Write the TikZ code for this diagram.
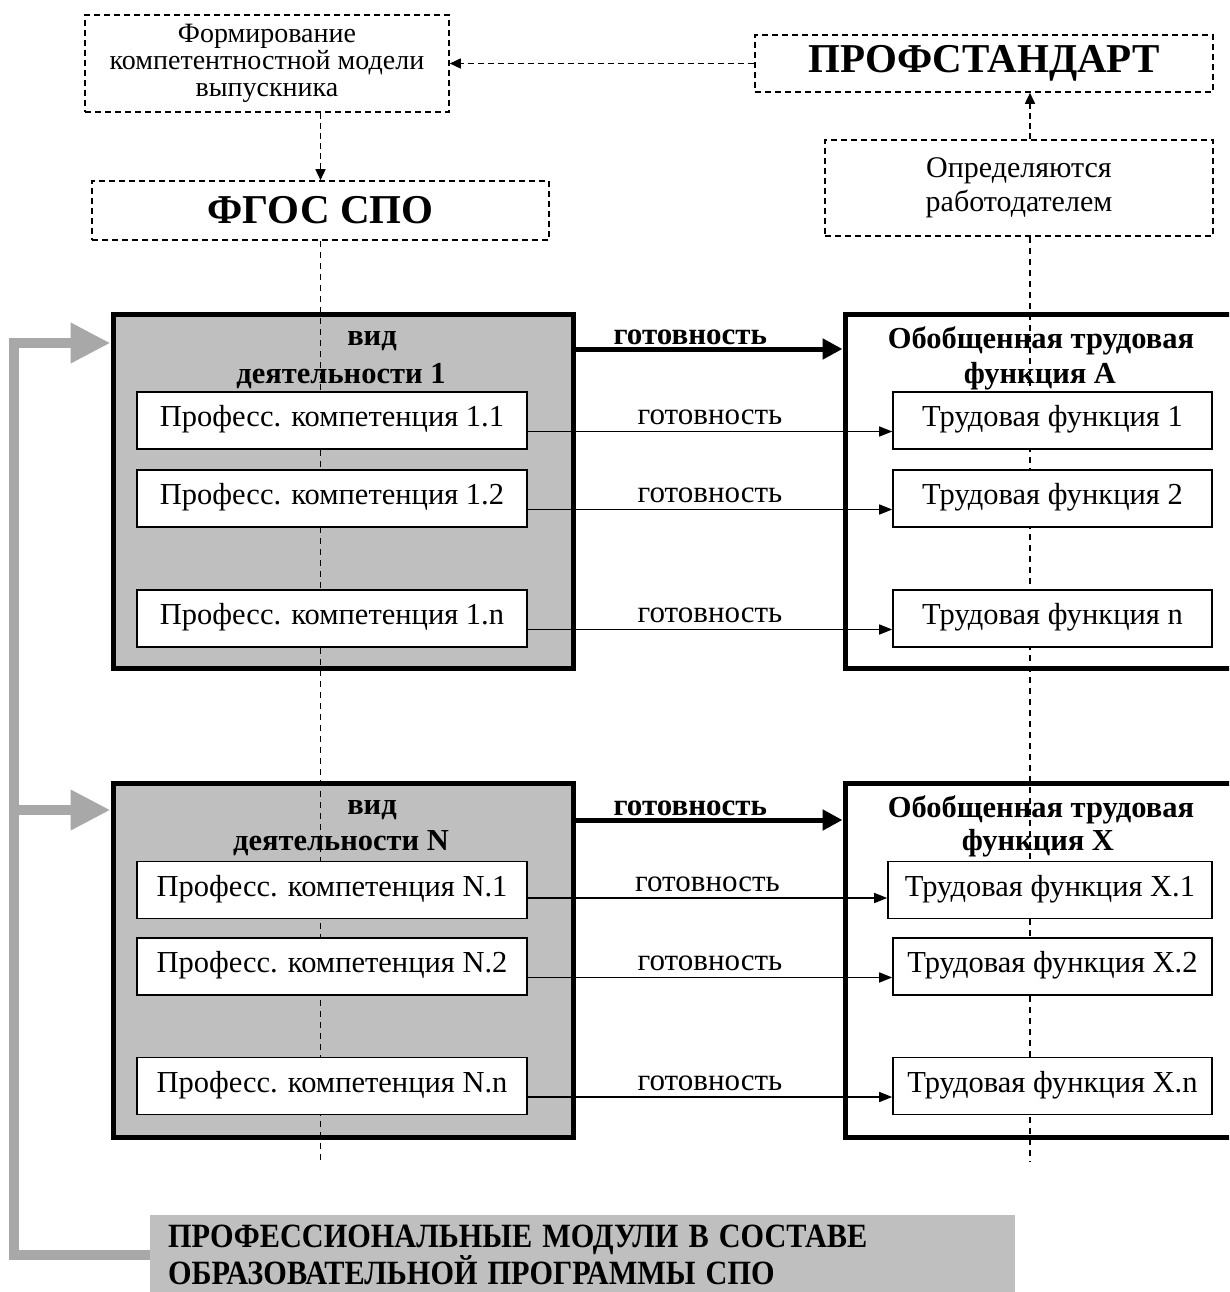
\documentclass[tikz,border=0pt]{standalone}
\usepackage{fontspec}
\setmainfont{Liberation Serif}
\usetikzlibrary{arrows.meta,calc}
\begin{document}
\begin{tikzpicture}[x=1pt,y=-1pt,
  dbox/.style={draw, line width=1.6pt, dash pattern=on 6pt off 4pt, inner sep=0pt, align=center},
  gbox/.style={draw, fill=gray!50, line width=5pt, inner sep=0pt},
  rbox/.style={draw, fill=white, line width=5pt, inner sep=0pt},
  wbox/.style={draw, fill=white, line width=1.6pt, inner sep=0pt, minimum height=57pt, text height=22pt, text depth=10pt, font=\fontsize{30.5}{34}\selectfont},
  pbox/.style={wbox, minimum width=390pt},
  tbox/.style={wbox, minimum width=319pt},
  darr/.style={line width=1.6pt, dash pattern=on 6pt off 4pt, -{Triangle[length=11pt,width=10pt]}},
  dline/.style={line width=1.4pt, dash pattern=on 6pt off 5pt},
  tarr/.style={line width=1.5pt, -{Triangle[length=13pt,width=10pt]}},
  barr/.style={line width=5pt, -{Triangle[length=20pt,width=20pt]}},
  garr/.style={draw=gray!68, line width=10pt, line join=miter, -{Triangle[length=40pt,width=38pt]}},
  lab/.style={yshift=14pt, font=\fontsize{31}{34}\selectfont},
  blab/.style={yshift=12pt, font=\fontsize{31}{34}\selectfont\bfseries},
  ttl/.style={font=\fontsize{30.5}{34}\selectfont\bfseries, inner sep=0pt},
  big/.style={font=\fontsize{41}{46}\selectfont\bfseries}
]
\clip (0,0) rectangle (1229,1292);
\fill[white] (0,0) rectangle (1229,1292);

% top boxes
\node[dbox, minimum width=364pt, minimum height=97pt, font=\fontsize{28}{27}\selectfont] (form) at (267,63.5) {Формирование\\компетентностной модели\\выпускника};
\node[dbox, minimum width=458pt, minimum height=57pt, big] (prof) at (984,63.5) {ПРОФСТАНДАРТ};
\node[dbox, minimum width=457pt, minimum height=59pt, big] (fgos) at (320.5,210.5) {ФГОС СПО};
\node[dbox, minimum width=388pt, minimum height=96pt, font=\fontsize{30}{34}\selectfont] (emp) at (1019,188) {Определяются\\работодателем};

\draw[darr] (prof.west) -- (form.east);
\draw[darr] (fgos.north |- form.south) -- (fgos.north);
\draw[darr] ([xshift=11pt]emp.north) -- ([xshift=11pt]emp.north |- prof.south);

% big boxes
\node[gbox, minimum width=460pt, minimum height=354pt] (v1) at (343,491.5) {};
\node[rbox, minimum width=400pt, minimum height=354pt] (f1) at (1045,491.5) {};
\node[gbox, minimum width=460pt, minimum height=354pt] (vN) at (343,960.5) {};
\node[rbox, minimum width=400pt, minimum height=354pt] (fX) at (1045,960.5) {};

% titles
\node[ttl] (v1a) at (372,341) {вид};
\node[ttl] (v1b) at (341,376) {деятельности 1};
\node[ttl] (vNa) at (372,810) {вид};
\node[ttl] (vNb) at (341,843) {деятельности N};
\node[ttl] (f1a) at (1041,341) {Обобщенная трудовая};
\node[ttl] (f1b) at (1040,376) {функция A};
\node[ttl] (fXa) at (1041,810) {Обобщенная трудовая};
\node[ttl] (fXb) at (1038,843) {функция X};

% dashed verticals
\draw[dline] (fgos.south) -- (fgos.south |- 0,1162);
\draw[dline] ([xshift=11pt]emp.south) -- ([xshift=11pt]emp.south |- 0,1162);

% inner boxes
\node[pbox] (p11) at (332,420.5) {Професс. компетенция 1.1};
\node[pbox] (p12) at (332,498.5) {Професс. компетенция 1.2};
\node[pbox] (p1n) at (332,618.5) {Професс. компетенция 1.n};
\node[pbox] (pN1) at (332,890) {Професс. компетенция N.1};
\node[pbox] (pN2) at (332,966.5) {Професс. компетенция N.2};
\node[pbox] (pNn) at (332,1086) {Професс. компетенция N.n};

\node[tbox] (t11) at (1052.5,420.5) {Трудовая функция 1};
\node[tbox] (t12) at (1052.5,498.5) {Трудовая функция 2};
\node[tbox] (t1n) at (1052.5,618.5) {Трудовая функция n};
\node[tbox, minimum width=324pt] (tX1) at (1050,890) {Трудовая функция X.1};
\node[tbox] (tX2) at (1052.5,966.5) {Трудовая функция X.2};
\node[tbox] (tXn) at (1052.5,1086) {Трудовая функция X.n};

% thick arrows
\draw[barr] ([yshift=-37pt]v1.north east) -- node[blab, pos=0.43] {готовность} ([yshift=-37pt]v1.north east -| f1.west);
\draw[barr] ([yshift=-39pt]vN.north east) -- node[blab, pos=0.43] {готовность} ([yshift=-39pt]vN.north east -| fX.west);

% thin arrows
\draw[tarr] ([yshift=-11pt]p11.east) -- node[lab] {готовность} ([yshift=-11pt]p11.east -| t11.west);
\draw[tarr] ([yshift=-11pt]p12.east) -- node[lab] {готовность} ([yshift=-11pt]p12.east -| t12.west);
\draw[tarr] ([yshift=-11pt]p1n.east) -- node[lab] {готовность} ([yshift=-11pt]p1n.east -| t1n.west);
\draw[tarr] ([yshift=-8pt]pN1.east) -- node[lab] {готовность} ([yshift=-8pt]pN1.east -| tX1.west);
\draw[tarr] ([yshift=-11pt]pN2.east) -- node[lab] {готовность} ([yshift=-11pt]pN2.east -| tX2.west);
\draw[tarr] ([yshift=-11pt]pNn.east) -- node[lab] {готовность} ([yshift=-11pt]pNn.east -| tXn.west);

% bottom module box and gray arrows
\node[fill=gray!50, minimum width=865pt, minimum height=80pt, anchor=north west, inner xsep=18pt, inner ysep=0pt, text width=829pt, align=left, font=\fontsize{34}{34}\selectfont\bfseries] (mod) at (150,1215) {\scalebox{0.89}[1]{ПРОФЕССИОНАЛЬНЫЕ МОДУЛИ В СОСТАВЕ}\\\scalebox{0.89}[1]{ОБРАЗОВАТЕЛЬНОЙ ПРОГРАММЫ СПО}};
\coordinate (g1) at (14,343);
\coordinate (g2) at (14,810);
\draw[garr] (mod.west) -| (g1) -- (g1 -| v1.west);
\draw[garr] (g2) -- (g2 -| vN.west);
\end{tikzpicture}
\end{document}
